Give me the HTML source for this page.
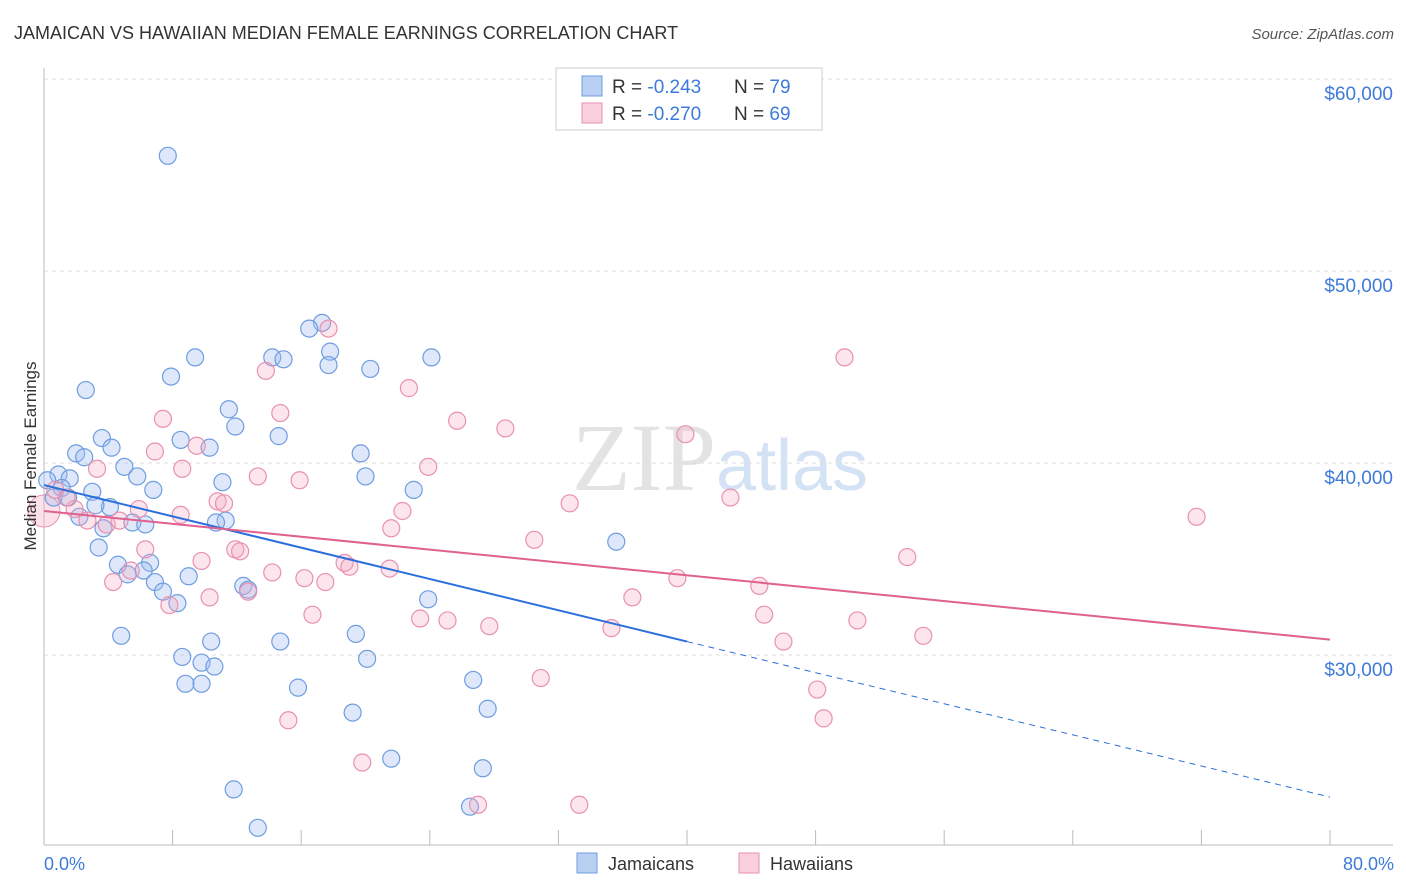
<!DOCTYPE html>
<html><head><meta charset="utf-8"><style>
body{margin:0;background:#fff;font-family:"Liberation Sans",sans-serif;}
svg{display:block}
</style></head><body>
<svg width="1406" height="892" xmlns="http://www.w3.org/2000/svg">
<text x="14" y="39" font-size="18" fill="#333">JAMAICAN VS HAWAIIAN MEDIAN FEMALE EARNINGS CORRELATION CHART</text>
<text x="1394" y="39" font-size="15" fill="#555" font-style="italic" text-anchor="end">Source: ZipAtlas.com</text>
<text x="720" y="490" font-size="96" fill="#e3e3e3" text-anchor="middle" font-family="Liberation Serif,serif">ZIP<tspan fill="#d3e2f4" font-family="Liberation Sans,sans-serif" font-size="72">atlas</tspan></text>
<g id="grid"></g>
<g id="axes"></g>
<g id="pts"></g>
<g id="lines"></g>
<text x="36" y="456" font-size="17" fill="#333" text-anchor="middle" transform="rotate(-90 36 456)">Median Female Earnings</text>
<text x="44" y="870" font-size="18" fill="#3d7bd9">0.0%</text>
<text x="1394" y="870" font-size="18" fill="#3d7bd9" text-anchor="end">80.0%</text>
<g>
<rect x="556" y="68" width="266" height="62" fill="#fff" stroke="#ccc"/>
<rect x="582" y="76" width="20" height="20" fill="#b9d0f3" stroke="#6e9de0"/>
<rect x="582" y="103" width="20" height="20" fill="#fbd0de" stroke="#e891b0"/>
<text x="612" y="93" font-size="19" fill="#333">R = <tspan fill="#3d7bd9">-0.243</tspan><tspan x="734">N = </tspan><tspan fill="#3d7bd9">79</tspan></text>
<text x="612" y="120" font-size="19" fill="#333">R = <tspan fill="#3d7bd9">-0.270</tspan><tspan x="734">N = </tspan><tspan fill="#3d7bd9">69</tspan></text>
</g>
<g>
<rect x="577" y="853" width="20" height="20" fill="#b9d0f3" stroke="#6e9de0"/>
<text x="608" y="870" font-size="18" fill="#333">Jamaicans</text>
<rect x="739" y="853" width="20" height="20" fill="#fbd0de" stroke="#e891b0"/>
<text x="770" y="870" font-size="18" fill="#333">Hawaiians</text>
</g>
</svg>
<script>
const yTicks=[30000,40000,50000,60000];
const yTickLabels=["$30,000","$40,000","$50,000","$60,000"];
const xTicks=[0,8,16,24,32,40,48,56,64,72,80];
const jamX=[7.7,17.3,16.5,17.8,9.4,14.2,14.9,24.1,17.7,20.3,7.9,2.6,11.5,11.9,8.5,3.6,14.6,4.2,10.3,2.0,2.5,19.7,5.0,0.9,5.8,20.0,11.1,1.6,0.2,1.1,3.0,6.8,23.0,0.6,1.5,4.1,3.2,2.2,11.3,5.5,6.3,10.7,3.7,35.6,3.4,4.6,6.6,6.2,5.2,9.0,6.9,12.4,12.7,7.4,8.3,23.9,4.8,10.4,14.7,19.4,8.6,20.1,9.8,10.6,8.8,9.8,15.8,26.7,19.2,27.6,21.6,27.3,11.8,26.5,13.3];
const jamY=[56000,47300,47000,45800,45500,45500,45400,45500,45100,44900,44500,43800,42800,41900,41200,41300,41400,40800,40800,40500,40300,40500,39800,39400,39300,39300,39000,39200,39100,38700,38500,38600,38600,38200,38200,37700,37800,37200,37000,36900,36800,36900,36600,35900,35600,34700,34800,34400,34200,34100,33800,33600,33400,33300,32700,32900,31000,30700,30700,31100,29900,29800,29600,29400,28500,28500,28300,28700,27000,27200,24600,24100,23000,22100,21000];
const hawX=[17.7,49.8,13.8,22.7,7.4,14.7,25.7,28.7,39.9,6.9,9.5,8.6,3.3,23.9,13.3,15.9,42.7,32.7,10.8,11.2,22.3,71.7,1.9,5.9,3.9,8.5,21.6,30.5,4.7,6.3,11.9,12.2,9.8,53.7,18.7,19.0,21.5,5.4,14.2,16.2,17.5,39.4,44.5,4.3,12.7,10.3,36.6,7.8,16.7,44.8,23.4,25.1,27.7,35.3,50.6,54.7,46.0,30.9,48.1,15.2,48.5,19.8,27.0,33.3,1.4,0.7,2.7];
const hawY=[47000,45500,44800,43900,42300,42600,42200,41800,41500,40600,40900,39700,39700,39800,39300,39100,38200,37900,38000,37900,37500,37200,37600,37600,36800,37300,36600,36000,37000,35500,35500,35400,34900,35100,34800,34600,34500,34400,34300,34000,33800,34000,33600,33800,33300,33000,33000,32600,32100,32100,31900,31800,31500,31400,31800,31000,30700,28800,28200,26600,26700,24400,22200,22200,38200,38600,37000];
const jamTrend=[[0,38850],[40,30700],[80,22600]];
const hawTrend=[[0,37500],[80,30800]];
const NS="http://www.w3.org/2000/svg";
const X=v=>44+v*16.075, Y=v=>655-(v-30000)*0.0192;
function mk(t,a,p){const e=document.createElementNS(NS,t);for(const k in a)e.setAttribute(k,a[k]);document.getElementById(p).appendChild(e);return e;}
yTicks.forEach((t,i)=>{
 const l=mk('line',{x1:44,x2:1393,y1:Y(t),y2:Y(t),stroke:'#ddd','stroke-dasharray':'4,4'},'grid');
 
 
 const tx=mk('text',{x:1393,y:Y(t)+21,'font-size':19,fill:'#3d7bd9','text-anchor':'end'},'grid');
 tx.textContent=yTickLabels[i];
 
 
});
const ax=mk('line',{x1:44,x2:44,y1:68,y2:845,stroke:'#bbb'},'axes');


const bx=mk('line',{x1:44,x2:1393,y1:845,y2:845,stroke:'#bbb'},'axes');


xTicks.forEach(t=>{
 const l=mk('line',{x1:X(t),x2:X(t),y1:830,y2:845,stroke:'#bbb'},'axes');
 
 
});
const big=mk('circle',{cx:X(0),cy:Y(37500),r:16,fill:'rgba(245,170,195,0.35)',stroke:'#e891b0'},'pts');


jamX.forEach((x,i)=>{
 const c=mk('circle',{cx:X(x),cy:Y(jamY[i]),r:8.5,fill:'rgba(160,190,240,0.35)',stroke:'#6e9de0','stroke-width':1.2},'pts');
 
 
});
hawX.forEach((x,i)=>{
 const c=mk('circle',{cx:X(x),cy:Y(hawY[i]),r:8.5,fill:'rgba(245,170,195,0.3)',stroke:'#e891b0','stroke-width':1.2},'pts');
 
 
});
const j1=mk('line',{x1:X(jamTrend[0][0]),y1:Y(jamTrend[0][1]),x2:X(jamTrend[1][0]),y2:Y(jamTrend[1][1]),stroke:'#2a6fdb','stroke-width':2},'lines');


const j2=mk('line',{x1:X(jamTrend[1][0]),y1:Y(jamTrend[1][1]),x2:X(jamTrend[2][0]),y2:Y(jamTrend[2][1]),stroke:'#2a6fdb','stroke-width':1,'stroke-dasharray':'6,5'},'lines');


const h1=mk('line',{x1:X(hawTrend[0][0]),y1:Y(hawTrend[0][1]),x2:X(hawTrend[1][0]),y2:Y(hawTrend[1][1]),stroke:'#e0608e','stroke-width':2},'lines');


</script>
</body></html>
